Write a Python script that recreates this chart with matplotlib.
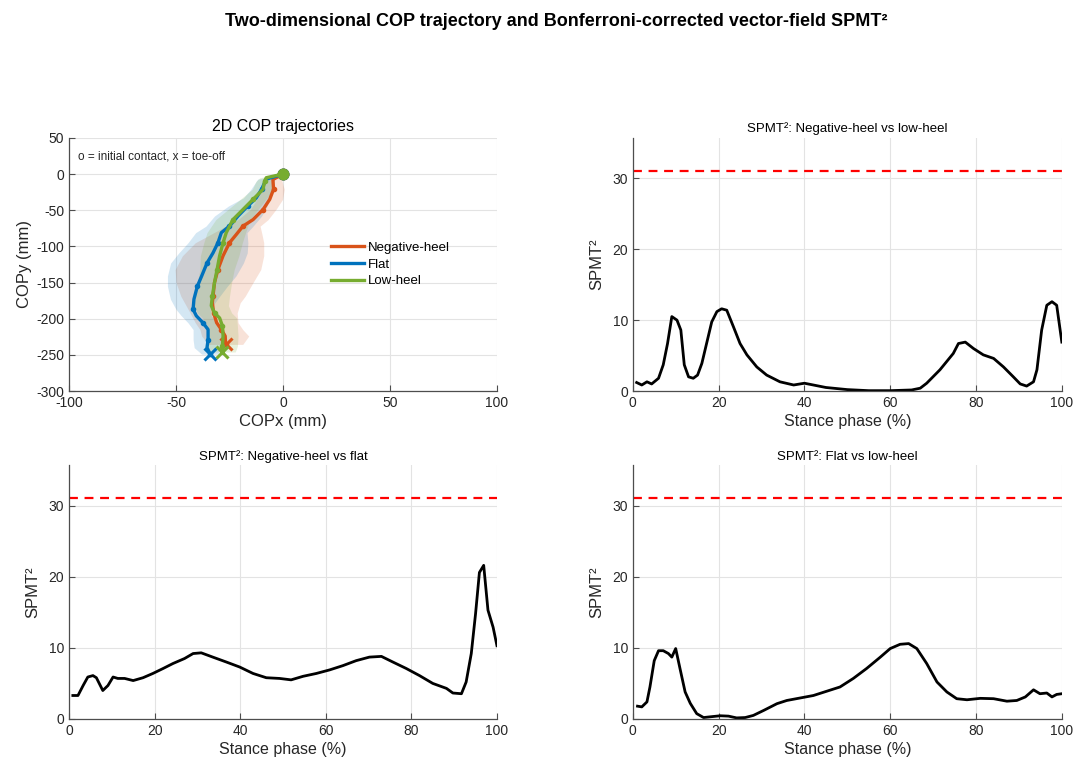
import matplotlib
matplotlib.use("Agg")
from matplotlib import pyplot as plt

plt.rcParams['font.family'] = ['Liberation Sans', 'DejaVu Sans']
plt.rcParams['axes.unicode_minus'] = False

# mean COP path per condition (mm) and the SD used for the shaded band
neg_x = [0, -4.7, -4.4, -6.2, -9.3, -14.0, -18.7, -21.8, -25.0, -28.0, -30.4, -32.0,
         -32.7, -33.0, -32.4, -31.0, -28.8, -27.0, -26.8]
neg_y = [0, -7.5, -21, -35, -49, -63, -72, -83.5, -95, -113, -132, -150,
         -169, -178, -192, -205.5, -215, -224, -235.5]
neg_sd = [1, 4, 5, 6, 6, 7, 8, 12, 16, 19, 20, 18, 15, 13, 11, 10, 10, 11, 8]

flat_x = [0, -7.8, -10.0, -12.5, -16.4, -21.0, -25.0, -28.8, -30.4, -32.7, -35.5, -38.0,
          -40.0, -41.6, -42.0, -40.5, -37.4, -35.0, -35.0, -35.5, -34.0]
flat_y = [0, -7, -21, -33, -44, -58, -72, -81, -95, -109, -123, -141,
          -155, -173, -187, -196, -205.6, -215, -229, -240, -249]
flat_sd = [1, 4, 5, 6, 9, 11, 11, 12, 14, 16, 17, 16, 14, 11, 8, 7, 7, 7, 7, 6, 4]

low_x = [0, -7.8, -8.6, -9.3, -14.0, -18.7, -23.4, -26.5, -28.0, -29.6, -30.8, -32.0,
         -33.0, -33.5, -32.0, -29.6, -28.3, -28.0, -28.3, -28.3]
low_y = [0, -5, -10, -21, -35, -49, -63, -81, -95, -113, -132, -150,
         -169, -182, -192, -199, -210, -224, -238, -246]
low_sd = [1, 3, 4, 5, 6, 7, 8, 9, 9, 9, 8, 8, 8, 8, 8, 8, 7, 7, 7, 6]

# SPM T^2 curves (stance phase %, statistic)
nl_x = [0.9, 2.1, 3.3, 4.4, 6.0, 7.1, 8.1, 9.1, 10.3, 11.2, 12.0, 13.0, 14.1, 15.1, 16.1,
        17.2, 18.4, 19.6, 20.7, 21.9, 23.5, 25.0, 26.6, 28.9, 31.2, 34.3, 37.5, 40.0,
        45.0, 50.0, 55.0, 60.0, 65.0, 67.0, 68.5, 71.6, 74.7, 75.9, 77.5, 79.4, 81.7,
        84.1, 86.4, 88.7, 90.3, 91.8, 93.4, 94.2, 95.3, 96.5, 97.7, 98.8, 100]
nl_y = [1.2, 0.85, 1.3, 1.0, 1.8, 3.7, 6.7, 10.5, 10.0, 8.6, 3.7, 2.0, 1.8, 2.25, 3.9,
        6.7, 9.75, 11.2, 11.6, 11.4, 9.0, 6.7, 5.1, 3.4, 2.25, 1.3, 0.85, 1.1,
        0.5, 0.2, 0.05, 0.05, 0.15, 0.4, 1.1, 3.0, 5.3, 6.7, 6.9, 6.0, 5.1,
        4.6, 3.4, 2.0, 1.0, 0.7, 1.3, 3.0, 8.6, 12.1, 12.6, 12.1, 6.9]

nf_x = [0.9, 2.1, 3.3, 4.4, 5.6, 6.4, 7.9, 9.1, 10.3, 11.4, 13.0, 15.0, 17.3, 19.6, 22.0,
        24.3, 27.0, 29.0, 30.9, 33.6, 36.8, 39.9, 43.0, 46.1, 49.2, 51.9, 54.7, 57.8,
        60.9, 64.0, 67.1, 70.2, 73.0, 75.7, 78.8, 81.9, 85.0, 88.2, 89.7, 91.7, 92.8,
        94.0, 95.0, 95.9, 96.9, 97.9, 99.1, 100]
nf_y = [3.3, 3.3, 4.7, 5.9, 6.1, 5.8, 4.0, 4.7, 5.9, 5.7, 5.7, 5.4, 5.8, 6.4, 7.1,
        7.8, 8.5, 9.2, 9.3, 8.7, 8.0, 7.3, 6.4, 5.8, 5.7, 5.5, 6.0, 6.4,
        6.9, 7.5, 8.2, 8.7, 8.8, 8.0, 7.1, 6.1, 5.0, 4.3, 3.65, 3.55, 5.2,
        9.2, 14.8, 20.6, 21.6, 15.3, 12.9, 10.3]

fl_x = [1.1, 2.1, 3.3, 4.0, 5.0, 6.0, 7.1, 8.3, 9.1, 10.0, 11.0, 12.2, 13.4, 14.9, 16.5,
        18.0, 20.4, 22.3, 24.2, 26.2, 28.1, 30.5, 33.6, 35.9, 39.0, 42.1, 45.2, 48.3,
        51.4, 54.5, 57.7, 60.0, 62.3, 64.3, 66.2, 68.5, 70.9, 73.2, 75.5, 77.9, 81.0,
        84.1, 87.2, 89.5, 91.5, 93.4, 94.9, 96.5, 97.7, 98.8, 100]
fl_y = [1.8, 1.7, 2.4, 4.5, 8.2, 9.6, 9.6, 9.2, 8.7, 9.9, 7.1, 3.8, 2.2, 0.75, 0.2,
        0.3, 0.45, 0.4, 0.15, 0.2, 0.5, 1.2, 2.15, 2.6, 2.95, 3.3, 3.9, 4.5,
        5.7, 7.1, 8.7, 9.9, 10.5, 10.6, 9.9, 7.8, 5.2, 3.8, 2.85, 2.7, 2.9,
        2.85, 2.5, 2.6, 3.1, 4.1, 3.55, 3.65, 3.1, 3.45, 3.55]

critical = 31.05

labels = ["Negative-heel", "Flat", "Low-heel"]
colors = ["#D95319", "#0072BD", "#77AC30"]

TXT = "#262626"
AX = "#4d4d4d"


def style(ax):
    ax.spines['top'].set_visible(False)
    ax.spines['right'].set_visible(False)
    for s in ('left', 'bottom'):
        ax.spines[s].set_color(AX)
        ax.spines[s].set_linewidth(0.9)
    ax.tick_params(direction='in', length=4, colors=AX, labelcolor=TXT, labelsize=10)
    ax.grid(True, color='#e3e3e3', linewidth=0.8)
    ax.set_axisbelow(True)


fig = plt.figure(figsize=(10.78, 7.74), dpi=100)
fig.suptitle("Two-dimensional COP trajectory and Bonferroni-corrected vector-field SPMT²",
             x=0.516, y=0.983, fontsize=13, fontweight='bold', color='black')

# 2D COP trajectories
ax = fig.add_axes([0.064, 0.4948, 0.397, 0.327])
style(ax)
paths = [(neg_x, neg_y, neg_sd), (flat_x, flat_y, flat_sd), (low_x, low_y, low_sd)]
for (px, py, sd), c in zip(paths, colors):
    lo = [a - s for a, s in zip(px, sd)]
    hi = [a + s for a, s in zip(px, sd)]
    ax.fill_betweenx(py, lo, hi, color=c, alpha=0.17, linewidth=0)
for (px, py, sd), c, lab in zip(paths, colors, labels):
    ax.plot(px, py, color=c, lw=2.4, label=lab)
    ax.plot(px[::2], py[::2], '.', color=c, ms=6)
    ax.plot(px[-1], py[-1], marker='x', color=c, ms=8, mew=2.2)
    ax.plot(px[0], py[0], marker='o', color=c, ms=7, mew=1.6, mfc=c)
ax.set_xlim(-100, 100)
ax.set_ylim(-300, 50)
ax.set_xticks([-100, -50, 0, 50, 100])
ax.set_yticks(range(-300, 51, 50))
ax.set_xlabel("COPx (mm)", fontsize=12, color=TXT, labelpad=3)
ax.set_ylabel("COPy (mm)", fontsize=12, color=TXT, labelpad=3)
ax.set_title("2D COP trajectories", fontsize=11.5, color='black', pad=5)
ax.text(0.02, 0.925, "o = initial contact, x = toe-off", transform=ax.transAxes,
        fontsize=8.5, color=TXT, va='center')
ax.legend(loc='center left', bbox_to_anchor=(0.6, 0.5), frameon=False,
          fontsize=9.5, handlelength=2.5, borderaxespad=0, labelspacing=0.35,
          handletextpad=0.3)

# SPM T^2 panels
spm = [
    ([0.587, 0.4948, 0.398, 0.327], nl_x, nl_y, "SPMT²: Negative-heel vs low-heel"),
    ([0.064, 0.0711, 0.397, 0.328], nf_x, nf_y, "SPMT²: Negative-heel vs flat"),
    ([0.587, 0.0711, 0.398, 0.328], fl_x, fl_y, "SPMT²: Flat vs low-heel"),
]
for pos, sx, sy, title in spm:
    a = fig.add_axes(pos)
    style(a)
    a.plot(sx, sy, color='black', lw=2)
    a.axhline(critical, color='#ff0000', lw=1.6, ls=(0, (4, 3)))
    a.set_xlim(0, 100)
    a.set_ylim(0, 35.7)
    a.set_xticks(range(0, 101, 20))
    a.set_yticks([0, 10, 20, 30])
    a.set_xlabel("Stance phase (%)", fontsize=11.5, color=TXT, labelpad=3)
    a.set_ylabel("SPMT²", fontsize=12, color=TXT, labelpad=6)
    a.set_title(title, fontsize=9.5, color='black', pad=4)

fig.savefig("out.png", dpi=100)
